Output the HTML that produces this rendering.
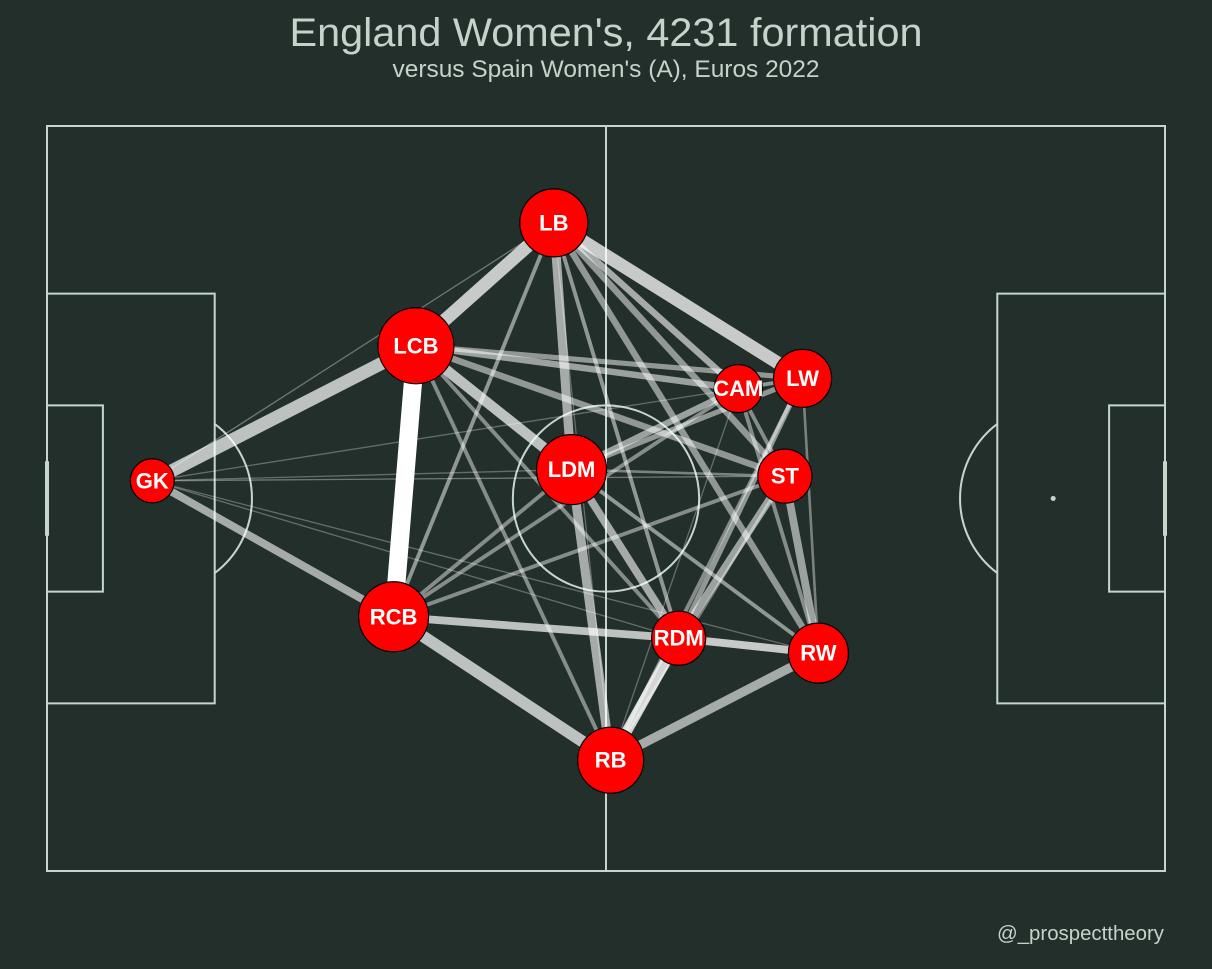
<!DOCTYPE html>
<html><head><meta charset="utf-8"><style>
html,body{margin:0;padding:0;background:#222f2b;}
svg{display:block;}
text{font-family:"Liberation Sans",sans-serif;}
</style></head><body>
<svg id="chart" width="1212" height="969" viewBox="0 0 1212 969">
<rect width="1212" height="969" fill="#222f2b"/>
<text x="606" y="46" text-anchor="middle" font-size="40" fill="#c7d3ca" textLength="633" lengthAdjust="spacingAndGlyphs">England Women's, 4231 formation</text>
<text x="606" y="77" text-anchor="middle" font-size="24" fill="#c7d3ca" textLength="427" lengthAdjust="spacingAndGlyphs">versus Spain Women's (A), Euros 2022</text>
<text x="1164" y="940" text-anchor="end" font-size="20" fill="#c7d3ca" textLength="167" lengthAdjust="spacingAndGlyphs">@_prospecttheory</text>
<g id="pitch" fill="none" stroke="#c7d6cd" stroke-width="2"></g>
<g id="edges"></g>
<g id="nodes"></g>
</svg>
<script>
const players = ["GK","LCB","LB","LDM","CAM","LW","ST","RCB","RDM","RW","RB"];
const playerX = [11.3,39.6,54.4,56.3,74.2,81.1,79.2,37.2,67.8,82.8,60.5];
const playerY = [38.1,23.6,10.4,36.9,28.2,27.1,37.6,52.7,55.0,56.6,68.1];
const playerSize = [22,38,34,35,24,29,27,35,27,30,33];
const edgeFrom = ["LCB","LB","LB","GK","GK","RCB","LCB","LB","LDM","RDM","RB","RCB","RDM","LB","LB","LB","LB","LB","LCB","LCB","LCB","LCB","LCB","LDM","LDM","LDM","LDM","LDM","ST","ST","LW","CAM","ST","LDM","CAM","LW","CAM","CAM","LW","ST","GK","GK","GK","GK","GK","GK","CAM","LB"];
const edgeTo   = ["RCB","LCB","LW","LCB","RCB","RB","LDM","LDM","RB","RB","RW","RDM","RW","CAM","ST","RW","RDM","RCB","CAM","LW","ST","RB","RDM","CAM","LW","RDM","RW","ST","RW","RDM","RDM","RCB","RCB","RCB","RW","RW","ST","LW","RB","RB","LB","CAM","ST","LDM","RDM","RW","RB","RB"];
const edgeCount = [14,10,10,10,6,9,8,7,7,8,7,6,6,5,5,5,3,3,5,4,5,3,3,5,4,6,3,2,6,6,4,3,3,3,3,2,3,3,3,2,1,1,1,1,1,1,1,1];
const edgeAlpha = [1,.75,.75,.7,.6,.7,.7,.6,.6,.8,.6,.7,.75,.6,.5,.5,.5,.5,.55,.5,.5,.45,.45,.55,.5,.6,.5,.4,.55,.55,.5,.45,.45,.45,.45,.4,.45,.5,.45,.4,.35,.3,.35,.3,.3,.3,.3,.3];

const X0=47,Y0=126,SX=1118/120,SY=745/80;
const WSCALE=1.3;
const px=x=>X0+x*SX, py=y=>Y0+y*SY;
const NS="http://www.w3.org/2000/svg";
function mk(tag,attrs,parent){const e=document.createElementNS(NS,tag);for(const k in attrs)e.setAttribute(k,attrs[k]);parent.appendChild(e);return e;}

const pitch=document.getElementById('pitch');
let e;
e=mk('rect',{x:px(0),y:py(0),width:px(120)-px(0),height:py(80)-py(0)},pitch);


e=mk('line',{x1:px(60),y1:py(0),x2:px(60),y2:py(80)},pitch);


e=mk('circle',{cx:px(60),cy:py(40),r:10*SX},pitch);


[[0,1],[120,-1]].forEach(([gx,d],i)=>{
  const side=i?'right':'left';
  const bx=d>0?px(0):px(102);
  e=mk('rect',{x:bx,y:py(18),width:18*SX,height:44*SY},pitch);
  
  
  const sx=d>0?px(0):px(114);
  e=mk('rect',{x:sx,y:py(30),width:6*SX,height:20*SY},pitch);
  
  
  const spx=px(gx+d*12), r=10*SX, ex=px(gx+d*18);
  const dy=Math.sqrt(r*r-(ex-spx)*(ex-spx));
  e=mk('path',{d:`M${ex},${py(40)-dy} A${r},${r} 0 0 ${d>0?1:0} ${ex},${py(40)+dy}`},pitch);
  
  
  e=mk('line',{x1:px(gx),y1:py(36),x2:px(gx),y2:py(44),'stroke-width':4},pitch);
  
  
  e=mk('circle',{cx:spx,cy:py(40),r:2.5,fill:'#c7d6cd',stroke:'none'},pitch);
  
  
});

const edges=document.getElementById('edges');
const idx=n=>players.indexOf(n);
const order=edgeCount.map((c,i)=>i).sort((a,b)=>edgeCount[a]-edgeCount[b]);
order.forEach(i=>{
  const a=idx(edgeFrom[i]),b=idx(edgeTo[i]);
  const l=mk('line',{x1:px(playerX[a]),y1:py(playerY[a]),x2:px(playerX[b]),y2:py(playerY[b]),stroke:'#ffffff','stroke-opacity':edgeAlpha[i],'stroke-width':Math.max(1,edgeCount[i]*WSCALE)},edges);
  
  
});

const nodes=document.getElementById('nodes');
players.forEach((p,i)=>{
  const g=mk('g',{},nodes);
  
  
  mk('circle',{cx:px(playerX[i]),cy:py(playerY[i]),r:playerSize[i],fill:'#ff0000',stroke:'#000',"stroke-width":1.2},g);
  const t=mk('text',{x:px(playerX[i]),y:py(playerY[i])+7.5,'text-anchor':'middle','font-size':22,'font-weight':'bold',fill:'#fff'},g);
  t.textContent=p;
  
  
});
</script>
</body></html>
